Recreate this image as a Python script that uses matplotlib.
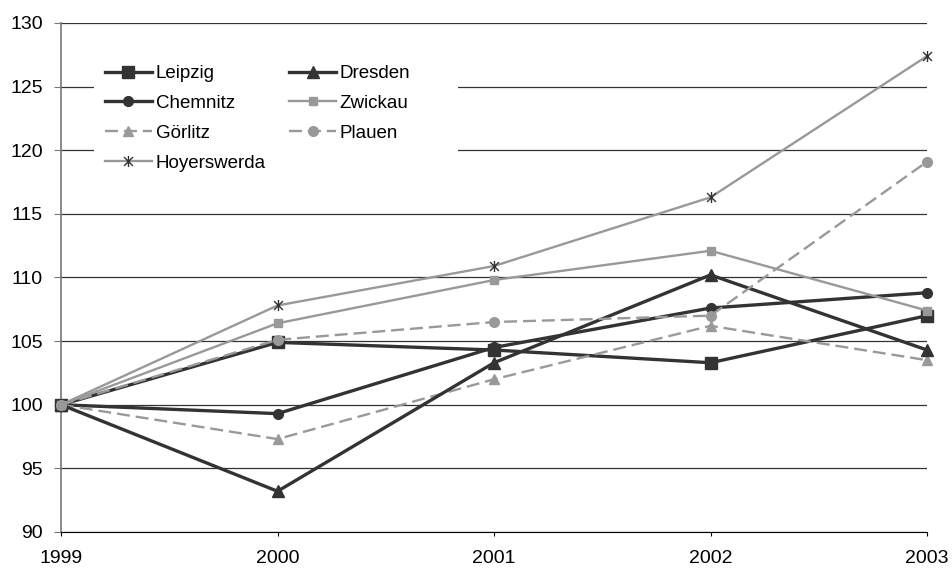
import matplotlib.pyplot as plt
from matplotlib.patches import Rectangle
from matplotlib.path import Path

plt.rcParams['font.family'] = ['Liberation Sans', 'DejaVu Sans']

years = [1999, 2000, 2001, 2002, 2003]

leipzig = [100, 104.9, 104.3, 103.3, 107.0]
dresden = [100, 93.2, 103.3, 110.2, 104.3]
chemnitz = [100, 99.3, 104.5, 107.6, 108.8]
zwickau = [100, 106.4, 109.8, 112.1, 107.4]
goerlitz = [100, 97.3, 102.0, 106.2, 103.5]
plauen = [100, 105.1, 106.5, 107.0, 119.1]
hoyerswerda = [100, 107.8, 110.9, 116.3, 127.4]

dark = '#333333'
grey = '#999999'
dash = (0, (5.5, 2.5))

# asterisk: an x with a vertical stroke
star = Path([(-1, -1), (1, 1), (-1, 1), (1, -1), (0, -1.25), (0, 1.25)],
            [Path.MOVETO, Path.LINETO] * 3)

fig = plt.figure(figsize=(9.52, 5.7), dpi=100)
ax = fig.add_axes([0.0641, 0.0667, 0.9097, 0.893])

# series: (label, values, line colour, marker, marker size, marker colour, linestyle, width)
series = [
    ('Leipzig', leipzig, dark, 's', 8, dark, '-', 2.4),
    ('Chemnitz', chemnitz, dark, 'o', 7, dark, '-', 2.4),
    ('Görlitz', goerlitz, grey, '^', 7, grey, dash, 1.7),
    ('Hoyerswerda', hoyerswerda, grey, star, 8, dark, '-', 1.7),
    ('Dresden', dresden, dark, '^', 9, dark, '-', 2.4),
    ('Zwickau', zwickau, grey, 's', 5.5, grey, '-', 1.7),
    ('Plauen', plauen, grey, 'o', 7, grey, dash, 1.7),
]

for label, vals, col, mk, ms, mcol, ls, lw in series:
    ax.plot(years, vals, color=col, linestyle=ls, linewidth=lw, marker=mk,
            markersize=ms, markerfacecolor=mcol, markeredgecolor=mcol,
            markeredgewidth=1.0, label=label, clip_on=False, zorder=3)

ax.set_xlim(1999, 2003)
ax.set_ylim(90, 130)
ax.set_yticks(range(90, 131, 5))
ax.set_xticks(years)
ax.tick_params(axis='y', length=5, color='#777777', labelsize=14, pad=8)
ax.tick_params(axis='x', length=3, color='black', labelsize=14, pad=10)
ax.yaxis.grid(True, color='#333333', linewidth=0.9)
ax.set_axisbelow(True)
for s in ['top', 'right']:
    ax.spines[s].set_visible(False)
ax.spines['left'].set_color('#777777')
ax.spines['left'].set_linewidth(1.2)
ax.spines['bottom'].set_color('black')

# white legend area hiding the gridlines
ax.add_patch(Rectangle((94 / 952, 1 - 185 / 570), 364 / 952, 140 / 570,
                       transform=fig.transFigure, facecolor='white',
                       edgecolor='none', zorder=1))

leg = ax.legend(ncol=2, loc='upper left',
                bbox_to_anchor=(105 / 952, 1 - 65 / 570),
                bbox_transform=fig.transFigure, frameon=False,
                fontsize=13.5, handlelength=2.5, handletextpad=0.2,
                columnspacing=1.25, labelspacing=0.68, borderpad=0,
                borderaxespad=0)

fig.savefig('out.png', dpi=100)
